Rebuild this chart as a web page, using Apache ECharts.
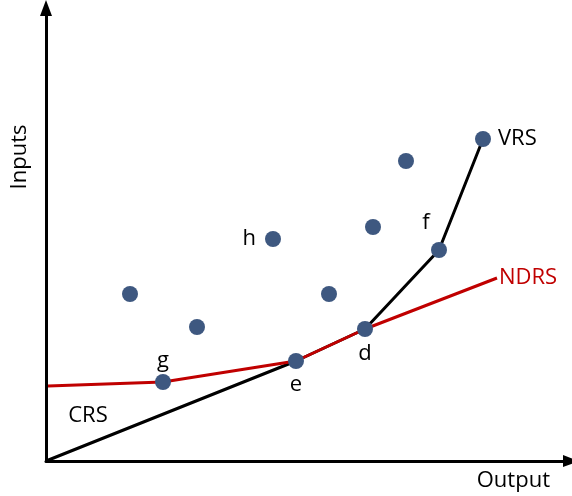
<!DOCTYPE html>
<html>
<head>
<meta charset="utf-8">
<script src="https://cdn.jsdelivr.net/npm/echarts@6/dist/echarts.min.js"></script>
<style>
    html, body { margin: 0; padding: 0; background: #fff; }
    #chart { width: 572px; height: 496px; }
</style>
</head>
<body>
<div id="chart"></div>
<script>
// firms (output, input)
const firmNames = ["", "", "g", "h", "e", "", "d", "", "", "f", "VRS"];
const firmOutput = [84, 151, 117, 227, 250, 283, 319, 327, 360, 393, 437];
const firmInput = [167, 134, 79, 222, 100, 167, 132, 234, 300, 211, 322];

// VRS frontier (black): origin -> e -> d -> f -> top
const vrsOutput = [0, 250, 319, 393, 437];
const vrsInput = [0, 100, 132, 211, 322];

// NDRS frontier (red)
const ndrsOutput = [2, 117, 250, 319, 451];
const ndrsInput = [75, 79, 100, 132, 183];

const labelPos = {
    g: { position: "top", distance: 2 },
    h: { position: "left", distance: 9 },
    e: { position: "bottom", distance: 5 },
    d: { position: "bottom", distance: 6 },
    f: { position: "top", offset: [-13, -4], distance: 4 },
    VRS: { position: "right", distance: 7 },
};

const font = "'Open Sans', 'Noto Sans', sans-serif";

let chart = echarts.init(document.getElementById("chart"));

let firmData = firmOutput.map((x, i) => {
    let item = { value: [x, firmInput[i]], name: firmNames[i] };
    if (firmNames[i]) {
        item.label = Object.assign({ show: true, formatter: "{b}" }, labelPos[firmNames[i]]);
    }
    return item;
});

let ndrsData = ndrsOutput.map((x, i) => [x, ndrsInput[i]]);
let vrsData = vrsOutput.map((x, i) => [x, vrsInput[i]]);

chart.setOption({
    animation: false,
    grid: {
        left: 46,
        right: 1,
        top: 8,
        bottom: 35,
    },
    xAxis: {
        type: "value",
        min: 0,
        max: 525,
        name: "Output",
        nameLocation: "end",
        nameGap: -21,
        nameTextStyle: {
            fontFamily: font,
            fontSize: 22,
            color: "#000",
            align: "right",
            verticalAlign: "top",
            padding: [9, 0, 0, 0],
        },
        axisLine: {
            lineStyle: { color: "#000", width: 3 },
            symbol: ["none", "triangle"],
            symbolSize: [12, 16],
        },
        axisTick: { show: false },
        axisLabel: { show: false },
        splitLine: { show: false },
    },
    yAxis: {
        type: "value",
        min: 0,
        max: 453,
        axisLine: {
            lineStyle: { color: "#000", width: 3 },
            symbol: ["none", "triangle"],
            symbolSize: [12, 16],
        },
        axisTick: { show: false },
        axisLabel: { show: false },
        splitLine: { show: false },
    },
    graphic: [
        {
            type: "text",
            x: 20,
            y: 157,
            rotation: Math.PI / 2,
            style: {
                text: "Inputs",
                font: "22px " + font,
                fill: "#000",
                align: "center",
                verticalAlign: "middle",
            },
        },
        {
            type: "text",
            x: 88,
            y: 416,
            style: {
                text: "CRS",
                font: "22px " + font,
                fill: "#000",
                align: "center",
                verticalAlign: "middle",
            },
        },
    ],
    series: [
        {
            name: "VRS",
            type: "line",
            data: vrsData,
            symbol: "none",
            z: 2,
            lineStyle: { color: "#000", width: 3 },
        },
        {
            name: "NDRS",
            type: "line",
            data: ndrsData,
            symbol: "none",
            z: 3,
            lineStyle: { color: "#C00000", width: 3 },
            endLabel: {
                show: true,
                formatter: "NDRS",
                color: "#C00000",
                fontFamily: font,
                fontSize: 22,
                distance: 2,
            },
        },
        {
            name: "firms",
            type: "scatter",
            data: firmData,
            symbolSize: 16,
            z: 4,
            itemStyle: { color: "#3E5880", opacity: 1 },
            label: {
                show: false,
                color: "#000",
                fontFamily: font,
                fontSize: 22,
            },
        },
    ],
});
</script>
</body>
</html>
